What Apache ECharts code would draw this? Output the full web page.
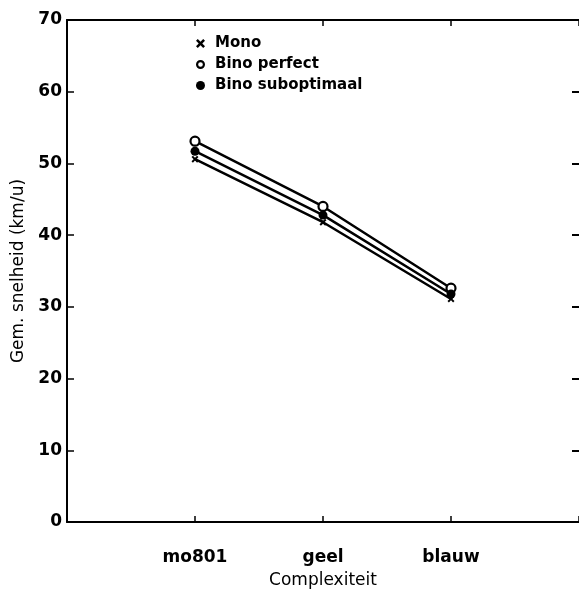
<!DOCTYPE html>
<html><head><meta charset="utf-8">
<script src="https://cdn.jsdelivr.net/npm/echarts@6/dist/echarts.min.js"></script>
<style>html,body{margin:0;padding:0;background:#fff}#c{width:579px;height:601px}</style>
</head><body><div id="c"></div>
<script>
var categories = ['mo801', 'geel', 'blauw'];
var mono = [50.6, 41.8, 31.1];
var binoPerfect = [53.1, 44.0, 32.6];
var binoSub = [51.7, 42.8, 31.8];
var yTicks = [0, 10, 20, 30, 40, 50, 60, 70];

var FONT = '"DejaVu Sans", "Liberation Sans", Arial, sans-serif';
var crossPath = 'path://M2,0 L5,3 L8,0 L10,2 L7,5 L10,8 L8,10 L5,7 L2,10 L0,8 L3,5 L0,2 Z';
var ringPath = 'path://M5,0 A5,5 0 1,1 4.99,0 Z M5,2.4 A2.6,2.6 0 1,0 5.01,2.4 Z';
function pts(arr){ return arr.map(function(v,i){ return [i+1, v]; }); }

var chart = echarts.init(document.getElementById('c'));
var lineStyle = {color:'#000', width:2.5};
chart.setOption({
  animation:false,
  backgroundColor:'#fff',
  grid:{left:67, top:20, right:0, bottom:79, containLabel:false, outerBoundsMode:'none'},
  legend:{
    orient:'vertical', left:191, top:31, itemGap:6, itemWidth:9, itemHeight:9,
    textStyle:{fontFamily:FONT, fontSize:15, fontWeight:'bold', color:'#000', padding:[0,0,0,5]},
    data:[
      {name:'Mono', icon:crossPath, itemStyle:{color:'#000', borderWidth:0}},
      {name:'Bino perfect', icon:ringPath, itemStyle:{color:'#000', borderWidth:0}},
      {name:'Bino suboptimaal', icon:'circle', itemStyle:{color:'#000', borderWidth:0}}
    ]
  },
  xAxis:[{
    type:'value', min:0, max:4, interval:1,
    name:'Complexiteit', nameLocation:'middle', nameGap:50,
    nameTextStyle:{fontFamily:FONT, fontSize:17, color:'#000'},
    axisLine:{onZero:false, lineStyle:{color:'#000', width:2}},
    axisTick:{inside:true, length:6, lineStyle:{color:'#000', width:1.5}},
    axisLabel:{margin:27, fontFamily:FONT, fontSize:17, fontWeight:'bold', color:'#000',
      formatter:function(v){ return categories[v-1] || ''; }},
    splitLine:{show:false}
  },{
    type:'value', min:0, max:4, interval:1, position:'top',
    axisLine:{show:true, onZero:false, lineStyle:{color:'#000', width:2}},
    axisTick:{inside:true, length:6, lineStyle:{color:'#000', width:1.5}},
    axisLabel:{show:false}, splitLine:{show:false}
  }],
  yAxis:[{
    type:'value', min:0, max:70, interval:10,
    name:'Gem. snelheid (km/u)', nameLocation:'middle', nameGap:37,
    nameTextStyle:{fontFamily:FONT, fontSize:17, color:'#000'},
    axisLine:{onZero:false, lineStyle:{color:'#000', width:2}},
    axisTick:{inside:true, length:7, lineStyle:{color:'#000', width:1.5}},
    axisLabel:{margin:5, fontFamily:FONT, fontSize:17, fontWeight:'bold', color:'#000',
      formatter:function(v){ return yTicks.indexOf(v) >= 0 ? String(v) : ''; }},
    splitLine:{show:false}
  },{
    type:'value', min:0, max:70, interval:10, position:'right',
    axisLine:{show:false, onZero:false},
    axisTick:{show:true, inside:true, length:7, lineStyle:{color:'#000', width:2}},
    axisLabel:{show:false}, splitLine:{show:false}
  }],
  series:[
    {name:'Mono', type:'line', data:pts(mono), symbol:crossPath, symbolSize:7,
      itemStyle:{color:'#000'}, lineStyle:lineStyle},
    {name:'Bino perfect', type:'line', data:pts(binoPerfect), symbol:'circle', symbolSize:9,
      itemStyle:{color:'#fff', borderColor:'#000', borderWidth:2.2}, lineStyle:lineStyle, z:3},
    {name:'Bino suboptimaal', type:'line', data:pts(binoSub), symbol:'circle', symbolSize:9,
      itemStyle:{color:'#000'}, lineStyle:lineStyle}
  ]
});
</script></body></html>
